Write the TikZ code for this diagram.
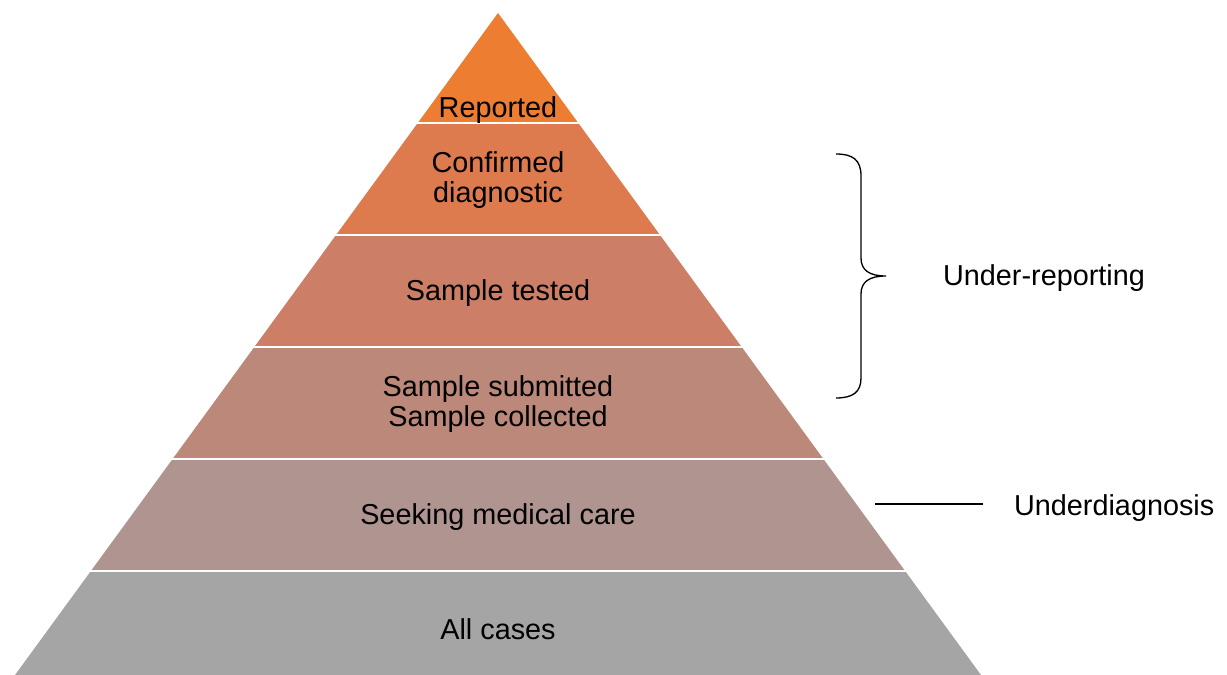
\documentclass[tikz,border=0pt]{standalone}
\usepackage{fontspec}
\setmainfont{Liberation Sans}
\usetikzlibrary{positioning}
% layer colours, top to bottom
\definecolor{lvlA}{HTML}{ED7D31}
\definecolor{lvlB}{HTML}{DE7B4E}
\definecolor{lvlC}{HTML}{CC7E66}
\definecolor{lvlD}{HTML}{BB887A}
\definecolor{lvlE}{HTML}{B0948F}
\definecolor{lvlF}{HTML}{A5A5A5}
\begin{document}
\begin{tikzpicture}[x=.02cm,y=-.02cm,font=\fontsize{16.4}{17}\selectfont,lbl/.style={align=center,inner sep=1pt}]
\useasboundingbox (0,0) rectangle (1227,675);
% pyramid, cut into bands with thin white gaps
\begin{scope}
\clip (498,13)--(981,675)--(15,675)--cycle;
\foreach \t/\b/\c in {0/122/lvlA,124/234/lvlB,236/346/lvlC,348/458/lvlD,460/570/lvlE,572/680/lvlF}{\fill[\c] (0,\t) rectangle (1227,\b);}
\end{scope}
\node[lbl] (rep) at (498,110){Reported};
\node[lbl] (conf) at (498,180){Confirmed\\diagnostic};
\node[lbl] (test) at (498,293){Sample tested};
\node[lbl] (subm) at (498,404){Sample submitted\\Sample collected};
\node[lbl] (seek) at (498,517){Seeking medical care};
\node[lbl] (all) at (498,629){All cases};
% brace for under-reporting
\draw[line width=.75pt] (836,154) .. controls (853,154) and (861,160) .. (861,176) -- (861,258) .. controls (861,270) and (869,276) .. (886,276) coordinate (tip) .. controls (869,276) and (861,282) .. (861,294) -- (861,378) .. controls (861,392) and (853,398) .. (836,398);
\node[lbl,anchor=west] (underrep) at (941,278){Under-reporting};
% underdiagnosis marker
\coordinate (udA) at (875,504);\coordinate (udB) at (983,504);
\draw[line width=.75pt] (udA)--(udB);
\node[lbl,anchor=west] (underdiag) at (1012,508){Underdiagnosis};
\end{tikzpicture}
\end{document}
